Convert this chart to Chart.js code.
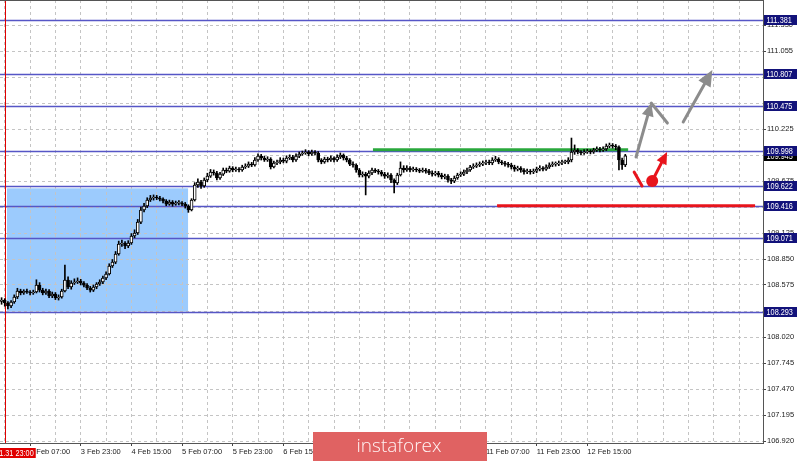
<!DOCTYPE html>
<html>
<head>
<meta charset="utf-8">
<script src="https://cdn.jsdelivr.net/npm/chart.js@4.4.1/dist/chart.umd.min.js"></script>
<style>
  html, body { margin: 0; padding: 0; background: #fff; }
  canvas { display: block; }
</style>
</head>
<body>
<canvas id="grafico" width="800" height="461"></canvas>
<script>
// Velas H1 (abertura, fechamento, máxima, mínima)
const aberturas = [
  108.400, 108.415, 108.384, 108.352, 108.394, 108.447, 108.511, 108.490, 108.511, 108.500,
  108.490, 108.500, 108.574, 108.521, 108.490, 108.511, 108.458, 108.479, 108.437, 108.447,
  108.511, 108.627, 108.553, 108.596, 108.606, 108.617, 108.596, 108.574, 108.543, 108.521,
  108.553, 108.585, 108.606, 108.649, 108.691, 108.776, 108.818, 108.903, 109.009, 109.020,
  108.988, 109.020, 109.094, 109.126, 109.242, 109.370, 109.412, 109.476, 109.497, 109.508,
  109.497, 109.486, 109.465, 109.433, 109.455, 109.433, 109.444, 109.444, 109.433, 109.412,
  109.370, 109.476, 109.635, 109.667, 109.624, 109.688, 109.730, 109.773, 109.762, 109.709,
  109.751, 109.794, 109.783, 109.815, 109.794, 109.804, 109.794, 109.826, 109.836, 109.857,
  109.847, 109.900, 109.942, 109.921, 109.900, 109.911, 109.826, 109.868, 109.879, 109.900,
  109.889, 109.921, 109.932, 109.900, 109.942, 109.964, 109.974, 109.985, 109.964, 109.985,
  109.974, 109.900, 109.879, 109.911, 109.900, 109.921, 109.900, 109.932, 109.953, 109.921,
  109.900, 109.857, 109.847, 109.794, 109.741, 109.751, 109.730, 109.762, 109.794, 109.783,
  109.773, 109.751, 109.730, 109.741, 109.688, 109.656, 109.741, 109.815, 109.794, 109.815,
  109.794, 109.804, 109.794, 109.783, 109.794, 109.783, 109.762, 109.751, 109.762, 109.741,
  109.720, 109.730, 109.688, 109.677, 109.709, 109.741, 109.751, 109.773, 109.794, 109.826,
  109.836, 109.847, 109.857, 109.868, 109.879, 109.868, 109.900, 109.911, 109.879, 109.868,
  109.857, 109.847, 109.826, 109.804, 109.815, 109.794, 109.773, 109.783, 109.773, 109.783,
  109.804, 109.815, 109.804, 109.826, 109.847, 109.857, 109.857, 109.868, 109.879, 109.879,
  109.900, 109.985, 110.006, 109.985, 109.974, 109.985, 109.995, 109.985, 110.006, 110.017,
  110.006, 110.017, 110.048, 110.059, 110.048, 110.038, 109.900, 109.847
];
const fechamentos = [
  108.415, 108.384, 108.352, 108.394, 108.447, 108.511, 108.490, 108.511, 108.500, 108.490,
  108.500, 108.574, 108.521, 108.490, 108.511, 108.458, 108.479, 108.437, 108.447, 108.511,
  108.627, 108.553, 108.596, 108.606, 108.617, 108.596, 108.574, 108.543, 108.521, 108.553,
  108.585, 108.606, 108.649, 108.691, 108.776, 108.818, 108.903, 109.009, 109.020, 108.988,
  109.020, 109.094, 109.126, 109.242, 109.370, 109.412, 109.476, 109.497, 109.508, 109.497,
  109.486, 109.465, 109.433, 109.455, 109.433, 109.444, 109.444, 109.433, 109.412, 109.370,
  109.476, 109.635, 109.667, 109.624, 109.688, 109.730, 109.773, 109.762, 109.709, 109.751,
  109.794, 109.783, 109.815, 109.794, 109.804, 109.794, 109.826, 109.836, 109.857, 109.847,
  109.900, 109.942, 109.921, 109.900, 109.911, 109.826, 109.868, 109.879, 109.900, 109.889,
  109.921, 109.932, 109.900, 109.942, 109.964, 109.974, 109.985, 109.964, 109.985, 109.974,
  109.900, 109.879, 109.911, 109.900, 109.921, 109.900, 109.932, 109.953, 109.921, 109.900,
  109.857, 109.847, 109.794, 109.741, 109.751, 109.730, 109.762, 109.794, 109.783, 109.773,
  109.751, 109.730, 109.741, 109.688, 109.656, 109.741, 109.815, 109.794, 109.815, 109.794,
  109.804, 109.794, 109.783, 109.794, 109.783, 109.762, 109.751, 109.762, 109.741, 109.720,
  109.730, 109.688, 109.677, 109.709, 109.741, 109.751, 109.773, 109.794, 109.826, 109.836,
  109.847, 109.857, 109.868, 109.879, 109.868, 109.900, 109.911, 109.879, 109.868, 109.857,
  109.847, 109.826, 109.804, 109.815, 109.794, 109.773, 109.783, 109.773, 109.783, 109.804,
  109.815, 109.804, 109.826, 109.847, 109.857, 109.857, 109.868, 109.879, 109.879, 109.900,
  109.985, 110.006, 109.985, 109.974, 109.985, 109.995, 109.985, 110.006, 110.017, 110.006,
  110.017, 110.048, 110.059, 110.048, 110.038, 109.900, 109.847, 109.945
];
const maximas = [
  108.440, 108.430, 108.400, 108.410, 108.470, 108.540, 108.530, 108.525, 108.530, 108.515,
  108.520, 108.630, 108.600, 108.540, 108.530, 108.525, 108.500, 108.495, 108.470, 108.530,
  108.786, 108.660, 108.620, 108.640, 108.650, 108.635, 108.610, 108.590, 108.560, 108.575,
  108.600, 108.630, 108.670, 108.715, 108.800, 108.845, 108.930, 109.040, 109.050, 109.035,
  109.045, 109.120, 109.160, 109.270, 109.400, 109.440, 109.500, 109.525, 109.530, 109.525,
  109.515, 109.500, 109.480, 109.475, 109.470, 109.465, 109.470, 109.460, 109.450, 109.425,
  109.490, 109.660, 109.700, 109.685, 109.710, 109.760, 109.800, 109.795, 109.780, 109.770,
  109.815, 109.815, 109.835, 109.830, 109.825, 109.820, 109.845, 109.860, 109.880, 109.875,
  109.925, 109.965, 109.960, 109.940, 109.935, 109.925, 109.890, 109.900, 109.925, 109.920,
  109.945, 109.955, 109.950, 109.965, 109.985, 109.995, 110.010, 110.000, 110.005, 110.000,
  109.990, 109.915, 109.930, 109.930, 109.945, 109.935, 109.955, 109.975, 109.965, 109.940,
  109.915, 109.880, 109.860, 109.810, 109.775, 109.770, 109.785, 109.815, 109.810, 109.800,
  109.790, 109.770, 109.765, 109.755, 109.700, 109.760, 109.880, 109.840, 109.840, 109.830,
  109.825, 109.820, 109.810, 109.815, 109.810, 109.800, 109.785, 109.780, 109.780, 109.760,
  109.750, 109.745, 109.705, 109.730, 109.760, 109.775, 109.795, 109.815, 109.845, 109.860,
  109.870, 109.880, 109.890, 109.900, 109.900, 109.925, 109.940, 109.925, 109.895, 109.885,
  109.875, 109.865, 109.845, 109.835, 109.830, 109.810, 109.805, 109.800, 109.805, 109.825,
  109.840, 109.830, 109.850, 109.870, 109.880, 109.880, 109.890, 109.900, 109.900, 109.925,
  110.133, 110.060, 110.020, 110.000, 110.010, 110.015, 110.010, 110.025, 110.040, 110.035,
  110.040, 110.070, 110.080, 110.075, 110.065, 110.050, 109.920, 109.960
];
const minimas = [
  108.370, 108.350, 108.320, 108.335, 108.380, 108.430, 108.470, 108.475, 108.485, 108.470,
  108.475, 108.490, 108.500, 108.470, 108.475, 108.440, 108.440, 108.420, 108.415, 108.435,
  108.500, 108.535, 108.530, 108.580, 108.590, 108.575, 108.555, 108.525, 108.500, 108.505,
  108.535, 108.570, 108.590, 108.630, 108.680, 108.760, 108.800, 108.890, 108.985, 108.960,
  108.970, 109.005, 109.075, 109.110, 109.225, 109.350, 109.395, 109.460, 109.475, 109.480,
  109.465, 109.445, 109.415, 109.420, 109.410, 109.420, 109.425, 109.415, 109.390, 109.345,
  109.360, 109.465, 109.610, 109.600, 109.610, 109.670, 109.715, 109.740, 109.690, 109.695,
  109.735, 109.765, 109.770, 109.775, 109.780, 109.775, 109.780, 109.810, 109.820, 109.830,
  109.835, 109.885, 109.900, 109.885, 109.885, 109.805, 109.815, 109.850, 109.860, 109.870,
  109.870, 109.905, 109.880, 109.885, 109.925, 109.950, 109.960, 109.945, 109.950, 109.955,
  109.880, 109.860, 109.865, 109.880, 109.885, 109.880, 109.885, 109.915, 109.900, 109.880,
  109.840, 109.825, 109.770, 109.720, 109.720, 109.530, 109.710, 109.745, 109.765, 109.750,
  109.730, 109.705, 109.710, 109.660, 109.550, 109.640, 109.730, 109.770, 109.780, 109.775,
  109.780, 109.775, 109.765, 109.770, 109.760, 109.745, 109.730, 109.735, 109.720, 109.700,
  109.700, 109.665, 109.650, 109.660, 109.695, 109.725, 109.735, 109.755, 109.780, 109.810,
  109.820, 109.830, 109.840, 109.850, 109.850, 109.850, 109.885, 109.860, 109.850, 109.835,
  109.825, 109.805, 109.780, 109.785, 109.770, 109.750, 109.755, 109.750, 109.755, 109.765,
  109.785, 109.785, 109.790, 109.810, 109.830, 109.835, 109.840, 109.850, 109.860, 109.860,
  109.880, 109.960, 109.965, 109.955, 109.960, 109.970, 109.965, 109.970, 109.990, 109.985,
  109.990, 110.000, 110.030, 110.025, 110.010, 109.794, 109.800, 109.830
];

// Eixo do tempo: 241 posições de vela (as últimas ficam vazias, à direita)
const posicoes = Array.from({ length: 241 }, (_, i) => i);
const gradeIdx = [1, 9, 17, 25, 33, 41, 49, 57, 65, 73, 81, 89, 97, 105, 113, 121, 129, 137, 145, 153, 161, 169, 177, 185, 193, 201, 209, 217, 225, 233];
const rotuloIdx = [9, 25, 41, 57, 73, 89, 105, 121, 137, 153, 169, 185];
const rotuloTexto = ["3 Feb 07:00", "3 Feb 23:00", "4 Feb 15:00", "5 Feb 07:00", "5 Feb 23:00", "6 Feb 15:00",
  "7 Feb 07:00", "7 Feb 23:00", "10 Feb 15:00", "11 Feb 07:00", "11 Feb 23:00", "12 Feb 15:00"];

// Eixo de preço
const precoTicks = [106.920, 107.195, 107.470, 107.745, 108.020, 108.295, 108.575, 108.850, 109.125,
  109.400, 109.675, 109.950, 110.225, 110.500, 110.780, 111.055, 111.330];
const niveis = [111.381, 110.807, 110.475, 109.998, 109.622, 109.416, 109.071, 108.293];
const precoAtual = 109.945;

// Objetos desenhados no gráfico (posição da vela, preço)
const linhaVertical = { idx: 1, texto: "2020.01.31 23:00" };
const zonaIdx = [1.7, 58.9];
const zonaPreco = [108.293, 109.600];
const linhaVerde = { de: 117.3, ate: 197.9, preco: 110.010 };
const linhaVermelha = { de: 156.5, ate: 238, preco: 109.416 };
const setaCinza1 = [[200.4, 109.932], [205.2, 110.504]];
const retornoCinza1 = [[205.2, 110.504], [210.3, 110.292]];
const setaCinza2 = [[215.3, 110.303], [224.5, 110.854]];
const tracoVermelho = [[199.8, 109.773], [202.3, 109.624]];
const bolaVermelha = [205.5, 109.677];
const setaVermelha = [[205.5, 109.677], [210.2, 109.985]];

const FONTE = "'Liberation Sans', Arial, sans-serif";

function seta(ctx, x1, y1, x2, y2, comp, larg) {
  const a = Math.atan2(y2 - y1, x2 - x1);
  const bx = x2 - comp * Math.cos(a), by = y2 - comp * Math.sin(a);
  ctx.beginPath();
  ctx.moveTo(x1, y1);
  ctx.lineTo(bx, by);
  ctx.stroke();
  ctx.beginPath();
  ctx.moveTo(x2, y2);
  ctx.lineTo(bx + (larg / 2) * Math.sin(a), by - (larg / 2) * Math.cos(a));
  ctx.lineTo(bx - (larg / 2) * Math.sin(a), by + (larg / 2) * Math.cos(a));
  ctx.closePath();
  ctx.fill();
}

// Texto estreito (como a fonte do MT4)
function textoEstreito(ctx, texto, x, y, alinhamento) {
  ctx.save();
  ctx.translate(x, y);
  ctx.scale(0.86, 1);
  ctx.textAlign = alinhamento;
  ctx.textBaseline = "middle";
  ctx.fillText(texto, 0, 0);
  ctx.restore();
}

function caixaPreco(ctx, area, py, texto, cor) {
  ctx.fillStyle = cor;
  ctx.fillRect(area.right + 1, Math.round(py) - 5, 33, 10);
  ctx.fillStyle = "#ffffff";
  ctx.font = "8.5px " + FONTE;
  textoEstreito(ctx, texto, area.right + 3.5, Math.round(py) + 0.5, "left");
}

const pluginObjetos = {
  id: "objetos",
  beforeDraw(chart) {
    const { ctx } = chart;
    const x = chart.scales.x, y = chart.scales.y;
    // Retângulo azul
    const x1 = x.getPixelForValue(zonaIdx[0]), x2 = x.getPixelForValue(zonaIdx[1]);
    const y1 = y.getPixelForValue(zonaPreco[1]), y2 = y.getPixelForValue(zonaPreco[0]);
    ctx.save();
    ctx.fillStyle = "#9ccbfd";
    ctx.fillRect(x1, y1, x2 - x1, y2 - y1);
    ctx.restore();
  },
  beforeDatasetsDraw(chart) {
    const { ctx, chartArea: a } = chart;
    const x = chart.scales.x, y = chart.scales.y;
    ctx.save();
    // Níveis horizontais
    ctx.strokeStyle = "#5656c6";
    ctx.lineWidth = 1.5;
    niveis.forEach((n) => {
      const py = Math.round(y.getPixelForValue(n)) + 0.5;
      ctx.beginPath();
      ctx.moveTo(a.left, py);
      ctx.lineTo(a.right, py);
      ctx.stroke();
    });
    // Linha vertical vermelha
    const vx = Math.round(x.getPixelForValue(linhaVertical.idx)) + 0.5;
    ctx.strokeStyle = "#e00000";
    ctx.lineWidth = 1;
    ctx.beginPath();
    ctx.moveTo(vx, a.top);
    ctx.lineTo(vx, a.bottom);
    ctx.stroke();
    // Linhas verde e vermelha
    [[linhaVerde, "#2aa83c"], [linhaVermelha, "#e8141c"]].forEach(([l, cor]) => {
      const py = y.getPixelForValue(l.preco);
      ctx.strokeStyle = cor;
      ctx.lineWidth = 3;
      ctx.beginPath();
      ctx.moveTo(x.getPixelForValue(l.de), py);
      ctx.lineTo(x.getPixelForValue(l.ate), py);
      ctx.stroke();
    });
    ctx.restore();
  },
  afterDatasetsDraw(chart) {
    const { ctx } = chart;
    const x = chart.scales.x, y = chart.scales.y;
    const p = (pt) => [x.getPixelForValue(pt[0]), y.getPixelForValue(pt[1])];
    ctx.save();
    ctx.lineCap = "round";
    // Setas cinzas
    ctx.strokeStyle = "#8c8c8c";
    ctx.fillStyle = "#8c8c8c";
    ctx.lineWidth = 3;
    let [a1, b1] = [p(setaCinza1[0]), p(setaCinza1[1])];
    seta(ctx, a1[0], a1[1], b1[0], b1[1], 13, 12);
    [a1, b1] = [p(retornoCinza1[0]), p(retornoCinza1[1])];
    ctx.beginPath();
    ctx.moveTo(a1[0], a1[1]);
    ctx.lineTo(b1[0], b1[1]);
    ctx.stroke();
    [a1, b1] = [p(setaCinza2[0]), p(setaCinza2[1])];
    seta(ctx, a1[0], a1[1], b1[0], b1[1], 16, 14);
    // Traço, bola e seta vermelhos
    ctx.strokeStyle = "#e8141c";
    ctx.fillStyle = "#e8141c";
    [a1, b1] = [p(tracoVermelho[0]), p(tracoVermelho[1])];
    ctx.beginPath();
    ctx.moveTo(a1[0], a1[1]);
    ctx.lineTo(b1[0], b1[1]);
    ctx.stroke();
    [a1, b1] = [p(setaVermelha[0]), p(setaVermelha[1])];
    seta(ctx, a1[0], a1[1], b1[0], b1[1], 12, 11);
    const c = p(bolaVermelha);
    ctx.beginPath();
    ctx.arc(c[0], c[1], 6, 0, Math.PI * 2);
    ctx.fill();
    ctx.restore();
  },
  afterDraw(chart) {
    const { ctx, chartArea: a } = chart;
    const x = chart.scales.x, y = chart.scales.y;
    ctx.save();
    // Borda superior
    ctx.strokeStyle = "#555";
    ctx.lineWidth = 1;
    ctx.beginPath();
    ctx.moveTo(a.left, a.top + 0.5);
    ctx.lineTo(a.right, a.top + 0.5);
    ctx.stroke();
    // Caixas de preço no eixo
    caixaPreco(ctx, a, y.getPixelForValue(precoAtual), precoAtual.toFixed(3), "#000000");
    niveis.forEach((n) => caixaPreco(ctx, a, y.getPixelForValue(n), n.toFixed(3), "#12127a"));
    // Rótulo da linha vertical
    const vx = x.getPixelForValue(linhaVertical.idx);
    ctx.fillStyle = "#e00000";
    ctx.fillRect(0, a.bottom + 5, vx + 31, 10);
    ctx.fillStyle = "#ffffff";
    ctx.font = "8.5px " + FONTE;
    textoEstreito(ctx, linhaVertical.texto, vx + 29, a.bottom + 10.5, "right");
    // Logotipo
    ctx.fillStyle = "#e06262";
    ctx.fillRect(313, 432, 174, 29);
    ctx.fillStyle = "#fff4f4";
    ctx.font = "300 19px 'Open Sans', Lato, sans-serif";
    ctx.textAlign = "center";
    ctx.textBaseline = "alphabetic";
    ctx.fillText("instaforex", 399, 452);
    ctx.restore();
  }
};

const ctx = document.getElementById("grafico").getContext("2d");
new Chart(ctx, {
  type: "bar",
  data: {
    labels: posicoes,
    datasets: [
      {
        label: "Corpo",
        data: aberturas.map((o, i) => [o, fechamentos[i]]),
        backgroundColor: (c) => (fechamentos[c.dataIndex] >= aberturas[c.dataIndex] ? "#ffffff" : "#000000"),
        borderColor: "#000000",
        borderWidth: 1,
        borderSkipped: false,
        barThickness: 3,
        minBarLength: 1,
        grouped: false,
      },
      {
        label: "Sombra",
        data: minimas.map((l, i) => [l, maximas[i]]),
        backgroundColor: "#000000",
        barThickness: 1,
        grouped: false,
      },
    ],
  },
  options: {
    responsive: false,
    animation: false,
    events: [],
    layout: { padding: 0 },
    plugins: {
      legend: { display: false },
      tooltip: { enabled: false },
    },
    scales: {
      x: {
        type: "category",
        offset: true,
        afterBuildTicks: (s) => { s.ticks = gradeIdx.map((v) => ({ value: v })); },
        afterFit: (s) => { s.height = 18; s.paddingLeft = 0; s.paddingRight = 0; },
        ticks: {
          autoSkip: false,
          maxRotation: 0,
          minRotation: 0,
          align: "start",
          padding: 1,
          color: "#222",
          font: { family: FONTE, size: 7.5 },
          callback: (v) => {
            const k = rotuloIdx.indexOf(v);
            return k >= 0 ? rotuloTexto[k] : "";
          },
        },
        grid: {
          offset: false,
          color: "#c4c4c4",
          tickLength: 3,
          tickColor: (c) => (c.tick && rotuloIdx.includes(c.tick.value) ? "#444" : "rgba(0,0,0,0)"),
        },
        border: { color: "#555", dash: [3, 3] },
      },
      y: {
        type: "linear",
        position: "right",
        min: 106.899,
        max: 111.597,
        afterBuildTicks: (s) => { s.ticks = precoTicks.map((v) => ({ value: v })); },
        afterFit: (s) => { s.width = 37; s.paddingTop = 0; s.paddingBottom = 0; },
        ticks: {
          padding: 1,
          color: "#222",
          font: { family: FONTE, size: 7.5 },
          callback: (v) => v.toFixed(3),
        },
        grid: { color: "#c4c4c4", tickLength: 3, tickColor: "#444" },
        border: { color: "#555", dash: [3, 3] },
      },
    },
  },
  plugins: [pluginObjetos],
});
</script>
</body>
</html>
